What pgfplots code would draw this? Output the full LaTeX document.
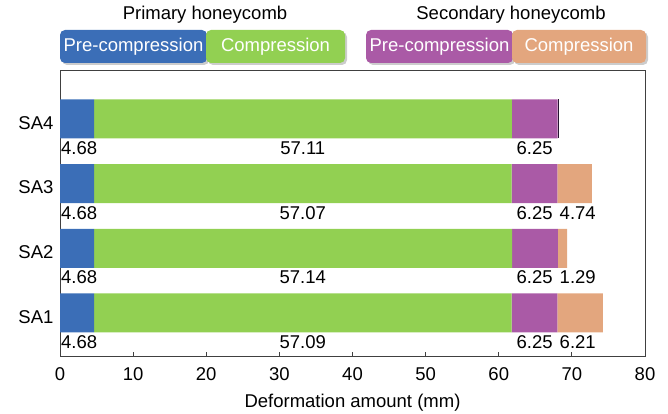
\documentclass[border=0pt]{standalone}
\usepackage{pgfplots}
\pgfplotsset{compat=1.18}
\usepackage{fontspec}
\setmainfont{Liberation Sans}
\usetikzlibrary{shadows}
\definecolor{cblue}{RGB}{59,110,183}
\definecolor{cgreen}{RGB}{146,208,82}
\definecolor{cpurple}{RGB}{170,90,166}
\definecolor{corange}{RGB}{227,166,126}
\definecolor{cdark}{RGB}{40,20,50}
\begin{document}
\begin{tikzpicture}[x=1pt,y=1pt,font=\fontsize{18.5}{22}\selectfont]
\path[use as bounding box] (0,0) rectangle (668,414);
% header legend
\node at (205,399) {Primary honeycomb};
\node at (511,399) {Secondary honeycomb};
\fill[cblue, rounded corners=5pt, drop shadow={shadow xshift=2pt, shadow yshift=-2pt, opacity=0.4}] (60,351) rectangle (207,384);
\fill[cgreen, rounded corners=5pt, drop shadow={shadow xshift=2pt, shadow yshift=-2pt, opacity=0.4}] (206,351) rectangle (345,384);
\fill[cpurple, rounded corners=5pt, drop shadow={shadow xshift=2pt, shadow yshift=-2pt, opacity=0.4}] (366,351) rectangle (513,384);
\fill[corange, rounded corners=5pt, drop shadow={shadow xshift=2pt, shadow yshift=-2pt, opacity=0.4}] (512,351) rectangle (646,384);
\node[white] at (133.5,367.5) {Pre-compression};
\node[white] at (275.5,367.5) {Compression};
\node[white] at (439.5,367.5) {Pre-compression};
\node[white] at (579,367.5) {Compression};
\begin{axis}[
  at={(60pt,57pt)}, anchor=south west, scale only axis,
  width=585pt, height=286pt,
  xbar stacked, bar width=39pt,
  xmin=0, xmax=80, ymin=0.32, ymax=4.74,
  ytick={1,2,3,4}, yticklabels={SA1,SA2,SA3,SA4},
  ytick style={draw=none},
  yticklabel style={xshift=-3pt, yshift=-4pt},
  xtick={0,10,...,80}, xtick pos=bottom, tick align=inside,
  xticklabel style={yshift=-7pt},
  major tick length=5pt,
  xtick style={black!75, line width=0.8pt},
  axis line style={black!75, line width=1pt},
  /pgf/number format/assume math mode=true,
  xlabel={Deformation amount (mm)},
  xlabel style={yshift=-7pt},
  clip=false,
]
\addplot[fill=cblue, draw=none] coordinates {(4.68,1) (4.68,2) (4.68,3) (4.68,4)};
\addplot[fill=cgreen, draw=none] coordinates {(57.09,1) (57.14,2) (57.07,3) (57.11,4)};
\addplot[fill=cpurple, draw=none] coordinates {(6.25,1) (6.25,2) (6.25,3) (6.25,4)};
\addplot[fill=cdark, draw=none] coordinates {(0,1) (0,2) (0,3) (0.25,4)};
\addplot[fill=corange, draw=none] coordinates {(6.21,1) (1.29,2) (4.74,3) (0,4)};
% value labels
\foreach \yy/\g/\o in {1/57.09/6.21, 2/57.14/1.29, 3/57.07/4.74, 4/57.11/} {
  \edef\tmp{\noexpand\node[anchor=west, inner sep=1pt] at (axis cs:0,\yy-0.45) {4.68};
  \noexpand\node at (axis cs:33.2,\yy-0.45) {\g};
  \noexpand\node at (axis cs:64.9,\yy-0.45) {6.25};
  \noexpand\node at (axis cs:70.8,\yy-0.45) {\o};}
  \tmp
}
\end{axis}
\end{tikzpicture}
\end{document}
